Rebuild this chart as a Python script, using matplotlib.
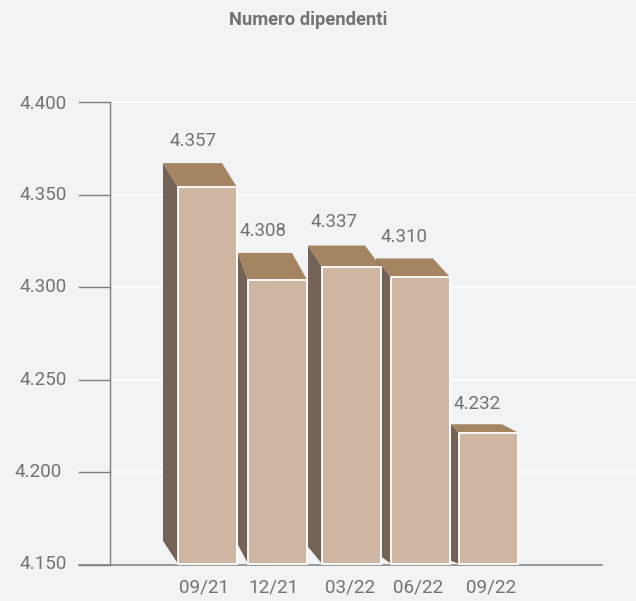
import matplotlib
matplotlib.use("Agg")
import matplotlib.pyplot as plt
from matplotlib.patches import Polygon

plt.rcParams['font.family'] = ['Roboto', 'DejaVu Sans']

# ---- data ----
categories = ['09/21', '12/21', '03/22', '06/22', '09/22']
labels = ['4.357', '4.308', '4.337', '4.310', '4.232']
front_tops = [4.354, 4.304, 4.311, 4.3055, 4.2215]
back_tops = [4.367, 4.3185, 4.3225, 4.3155, 4.226]
y_ticks = [4.15, 4.20, 4.25, 4.30, 4.35, 4.40]
y_tick_labels = ['4.150', '4.200', '4.250', '4.300', '4.350', '4.400']

# ---- layout in figure pixels ----
W, H = 636, 601
BG = '#f2f3f5'
TXT = '#727375'
AX = '#7d7e80'
x_left = [178, 248, 322, 391, 459]
bar_w = 59
depth_x = [15, 15, 16, 17, 16]
side_left = [163, 238, 308, 376, 451]
side_drop = [23, 19, 17, 11, 3]
label_x = [193, 263, 334, 404, 477]
label_y = [140.5, 231.5, 222, 237.5, 403.5]
tick_x = [204, 273.5, 350.5, 418, 491]
ylab_x = [67, 61.5, 67, 67, 66.5, 66.5]
ylab_y = [564, 472, 380, 287, 195, 104]
y_bottom, y_top = 565, 102

fig = plt.figure(figsize=(W / 100, H / 100), dpi=100, facecolor=BG)
ax = fig.add_axes([0, 0, 1, 1])
ax.set_facecolor(BG)
ax.set_axis_off()
ax.set_xlim(0, W)
scale = (y_ticks[-1] - y_ticks[0]) / (y_bottom - y_top)
ax.set_ylim(y_ticks[0] - (H - y_bottom) * scale, y_ticks[0] + y_bottom * scale)
base = y_ticks[0]


def py(p):
    return base + (y_bottom - p) * scale


for v in y_ticks[1:]:
    ax.plot([112, W], [v, v], color='white', lw=1.1, zorder=1)
for v in y_ticks:
    ax.plot([79, 109.5], [v, v], color=AX, lw=1.0, zorder=2)
ax.plot([109.5, 109.5], [base, y_ticks[-1]], color=AX, lw=1.0, zorder=2)
ax.plot([79, 602], [base, base], color=AX, lw=1.1, zorder=2)

bottom = base + 1.2 * scale
for i, (x, ft, bt) in enumerate(zip(x_left, front_tops, back_tops)):
    r = x + bar_w
    sl = side_left[i]
    dx = depth_x[i]
    # side face
    ax.add_patch(Polygon([(sl, bt), (x, ft), (x, bottom), (sl, bottom + side_drop[i] * scale)],
                         closed=True, fc='#736255', ec='none', zorder=3 + i * 0.1))
    # top face
    ax.add_patch(Polygon([(sl, bt), (r - dx, bt), (r, ft), (x, ft)],
                         closed=True, fc='#a58461', ec='none', zorder=4 + i * 0.1))
    # front face
    ax.add_patch(Polygon([(x, bottom), (x, ft), (r, ft), (r, bottom)],
                         closed=True, fc='#cfb6a3', ec='white', lw=1.3, zorder=5 + i * 0.1))
    ax.text(label_x[i], py(label_y[i]), labels[i], color=TXT, fontsize=13.5,
            ha='center', va='center', zorder=20)
    ax.text(tick_x[i], py(587), categories[i], color=TXT, fontsize=13.6,
            ha='center', va='center', zorder=20)

for t, xr, yp in zip(y_tick_labels, ylab_x, ylab_y):
    ax.text(xr, py(yp), t, color=TXT, fontsize=13.6, ha='right', va='center')

ax.text(308.5, py(20), 'Numero dipendenti', color=TXT, fontsize=13.2,
        fontweight='bold', ha='center', va='center')

fig.savefig('out.png', dpi=100, facecolor=BG)
